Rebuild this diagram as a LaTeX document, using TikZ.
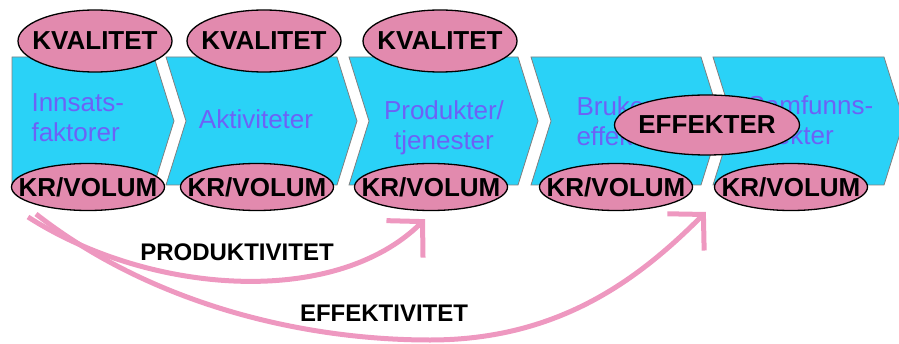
\documentclass[tikz,border=0pt]{standalone}
\usepackage{fontspec}
\setmainfont{Liberation Sans}
\usetikzlibrary{arrows.meta, shapes.geometric}

\definecolor{chevcyan}{RGB}{42,210,247}
\definecolor{stageblue}{RGB}{108,98,246}
\definecolor{ovalpink}{RGB}{226,138,174}
\definecolor{flowpink}{RGB}{238,152,192}

\begin{document}
\begin{tikzpicture}[
    x=1pt, y=1pt,
    chev/.style={fill=chevcyan, draw=black!50, line width=0.8pt},
    stage/.style={text=stageblue, font=\fontsize{26}{30}\selectfont},
    oval/.style={ellipse, draw=black, line width=1.3pt, fill=ovalpink, inner xsep=-18pt, inner ysep=0pt,
        font=\fontsize{26}{30}\selectfont\bfseries},
    kval/.style={oval, minimum width=154pt, minimum height=62pt},
    krvol/.style={oval, minimum width=153pt, minimum height=47pt},
    flow/.style={draw=flowpink, line width=5pt, -{Straight Barb[length=25pt, width=52pt]}},
    lbl/.style={font=\fontsize{24}{28}\selectfont\bfseries}
]
\useasboundingbox (0,0) rectangle (899,343);

% value chain
\draw[chev] (12,286) -- (154,286) -- (174,222) -- (154,158) -- (12,158) -- cycle;
\foreach \l/\r in {166/337, 349/518, 531/701, 713/884}
    \draw[chev] (\l,286) -- (\r,286) -- ({\r+20},222) -- (\r,158) -- (\l,158) -- ({\l+20},222) -- cycle;

\node[stage, anchor=west, align=left] (innsats) at (28,225) {Innsats-\\faktorer};
\node[stage] (aktiv) at (256,224) {Aktiviteter};
\node[stage, align=center] (produkt) at (444,215) {Produkter/\\tjenester};
\node[stage, anchor=west, align=left] (bruker) at (573,222) {Bruker-\\effekter};
\node[stage, anchor=west, align=left] (samfunn) at (744,223) {Samfunns-\\effekter};

% ovals
\node[kval] (kval1) at (95,302) {KVALITET};
\node[kval] (kval2) at (264,302) {KVALITET};
\node[kval] (kval3) at (440,302) {KVALITET};
\foreach \x [count=\i] in {88,257,431,616,791}
    \node[krvol] (krvol\i) at (\x,156) {KR/VOLUM};
\node[oval, minimum width=185pt, minimum height=60pt] (effekt) at (707,218) {EFFEKTER};

% measures
\coordinate (prodstart) at (28,126);
\coordinate (effstart) at (36,129);
\draw[flow] (prodstart) .. controls (150,48) and (335,35) .. ([xshift=-6pt, yshift=-8pt]krvol3.south);
\draw[flow] (effstart) .. controls (150,40) and (300,3) .. (430,3)
    .. controls (560,3) and (640,65) .. ([xshift=-8pt, yshift=-25pt]krvol5.west);
\node[lbl] (prodlbl) at (237,91) {PRODUKTIVITET};
\node[lbl] (efflbl) at (384,30) {EFFEKTIVITET};
\end{tikzpicture}
\end{document}
